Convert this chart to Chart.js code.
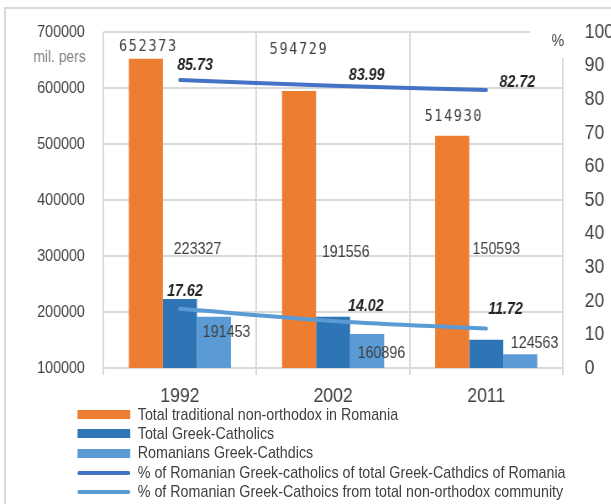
<!DOCTYPE html>
<html>
<head>
<meta charset="utf-8">
<script src="https://cdn.jsdelivr.net/npm/chart.js@4"></script>
<style>
  body { margin: 0; background: #fff; overflow: hidden; }
  #wrap { position: relative; width: 611px; height: 504px; overflow: hidden; }
  #frame { position: absolute; left: 4px; top: 7px; width: 700px; height: 600px; border: 2px solid #d9d9d9; }
  /* the whole figure is drawn wide and squeezed horizontally, which gives the narrow lettering */
  #stage { position: absolute; left: 0; top: 0; width: 728px; height: 504px; transform: scaleX(0.84); transform-origin: 0 0; }
  #chart { position: absolute; left: 0; top: 0; }
  #legend { position: absolute; left: 92px; top: 405px; font-family: "Liberation Sans", Arial, sans-serif; font-size: 17px; color: #404040; }
  .item { display: flex; align-items: center; height: 19.3px; white-space: nowrap; }
  .swatch { width: 63px; margin-right: 9px; }
</style>
</head>
<body>
<div id="wrap">
  <div id="frame"></div>
  <div id="stage">
    <canvas id="chart" width="728" height="410"></canvas>
    <div id="legend"></div>
  </div>
</div>
<script>
const years = ["1992", "2002", "2011"];
const totalNonOrthodox = [652373, 594729, 514930];
const totalGreekCatholics = [223327, 191556, 150593];
const romanianGreekCatholics = [191453, 160896, 124563];
const pctOfGreekCatholics = [85.73, 83.99, 82.72];
const pctOfNonOrthodox = [17.62, 14.02, 11.72];

const sans = '"Liberation Sans", Arial, sans-serif';

// where each value label sits relative to its bar top / line point
const labelStyle = [
  { font: '16px "DejaVu Sans Mono", monospace', spacing: "2px", shift: [[3, -12], [0, -41], [2, -19]] },
  { font: "17px " + sans, spacing: "0px", shift: [[21, -50], [15, -64], [12, -90]] },
  { font: "17px " + sans, spacing: "0px", shift: [[15, 16], [17, 19], [17, -11]] },
  { font: "italic bold 17px " + sans, spacing: "0px", shift: [[18, -15], [40, -10], [37, -8]] },
  { font: "italic bold 17px " + sans, spacing: "0px", shift: [[6, -17], [39, -15], [23, -19]] },
];

const valueLabels = {
  id: "valueLabels",
  afterDatasetsDraw(chart) {
    const ctx = chart.ctx;
    ctx.save();
    ctx.textAlign = "center";
    ctx.textBaseline = "middle";
    chart.data.datasets.forEach((ds, i) => {
      const meta = chart.getDatasetMeta(i);
      const style = labelStyle[i];
      ctx.font = style.font;
      ctx.letterSpacing = style.spacing;
      ctx.fillStyle = i >= 3 ? "#262626" : "#404040";
      meta.data.forEach((el, j) => {
        const [dx, dy] = style.shift[j];
        ctx.fillText(String(ds.data[j]), el.x + dx, el.y + dy);
      });
    });
    ctx.restore();
  },
  afterDraw(chart) {
    const { ctx, chartArea } = chart;
    ctx.save();
    // unit captions for both value axes
    ctx.fillStyle = "#fff";
    ctx.fillRect(chartArea.right - 39, chartArea.top - 4, 48, 30);
    ctx.font = "17px " + sans;
    ctx.fillStyle = "#404040";
    ctx.textAlign = "center";
    ctx.textBaseline = "middle";
    ctx.fillText("%", chartArea.right - 6, chartArea.top + 9);
    ctx.font = "16.5px " + sans;
    ctx.fillStyle = "#808080";
    ctx.textAlign = "right";
    ctx.fillText("mil. pers", chartArea.left - 21, chartArea.top + 25);
    ctx.restore();
  },
};

// keep the value axes from pushing the plot area down
function fixAxisWidth(width) {
  return (s) => {
    s.width = width;
    s.paddingTop = 0;
    s.paddingBottom = 0;
  };
}

const chart = new Chart(document.getElementById("chart"), {
  type: "bar",
  data: {
    labels: years,
    datasets: [
      {
        label: "Total traditional non-orthodox in Romania",
        data: totalNonOrthodox,
        backgroundColor: "#ED7D31",
        yAxisID: "y",
        order: 1,
      },
      {
        label: "Total Greek-Catholics",
        data: totalGreekCatholics,
        backgroundColor: "#2E75B6",
        yAxisID: "y",
        order: 1,
      },
      {
        label: "Romanians Greek-Cathdics",
        data: romanianGreekCatholics,
        backgroundColor: "#5B9BD5",
        yAxisID: "y",
        order: 1,
      },
      {
        type: "line",
        label: "% of Romanian Greek-catholics of total Greek-Cathdics of Romania",
        data: pctOfGreekCatholics,
        borderColor: "#4472C4",
        backgroundColor: "#4472C4",
        borderWidth: 4,
        borderCapStyle: "round",
        tension: 0.4,
        pointRadius: 0,
        yAxisID: "y1",
        order: 0,
      },
      {
        type: "line",
        label: "% of Romanian Greek-Cathoics from total non-orthodox community",
        data: pctOfNonOrthodox,
        borderColor: "#5B9BD5",
        backgroundColor: "#5B9BD5",
        borderWidth: 4,
        borderCapStyle: "round",
        tension: 0.4,
        pointRadius: 0,
        yAxisID: "y1",
        order: 0,
      },
    ],
  },
  options: {
    responsive: false,
    animation: false,
    datasets: {
      bar: { barPercentage: 1, categoryPercentage: 0.667 },
    },
    layout: { padding: { top: 32, left: 0, right: 0, bottom: 0 } },
    scales: {
      x: {
        offset: true,
        grid: { offset: true, color: "#d9d9d9", lineWidth: 2, tickLength: 7 },
        border: { display: false },
        ticks: {
          font: { family: sans, size: 21 },
          color: "#404040",
          padding: 9,
        },
        afterFit: (s) => { s.height = 42; },
      },
      y: {
        position: "left",
        min: 100000,
        max: 700000,
        grid: { color: "#d9d9d9", lineWidth: 2, drawTicks: false },
        border: { display: false },
        ticks: {
          stepSize: 100000,
          padding: 22,
          font: { family: sans, size: 17 },
          color: "#404040",
          callback: (v) => String(v),
        },
        afterFit: fixAxisWidth(123),
      },
      y1: {
        position: "right",
        min: 0,
        max: 100,
        grid: { display: false, drawTicks: false },
        border: { display: false },
        ticks: {
          stepSize: 10,
          padding: 26,
          font: { family: sans, size: 21 },
          color: "#404040",
        },
        afterFit: fixAxisWidth(58),
      },
    },
    plugins: {
      legend: { display: false },
      tooltip: { enabled: false },
    },
  },
  plugins: [valueLabels],
});

// legend as a single column under the chart
const legend = document.getElementById("legend");
chart.data.datasets.forEach((ds) => {
  const row = document.createElement("div");
  row.className = "item";
  const sw = document.createElement("span");
  sw.className = "swatch";
  if (ds.type === "line") {
    sw.style.height = "4px";
    sw.style.borderRadius = "2px";
  } else {
    sw.style.height = "9px";
  }
  sw.style.background = ds.backgroundColor;
  const txt = document.createElement("span");
  txt.textContent = ds.label;
  row.appendChild(sw);
  row.appendChild(txt);
  legend.appendChild(row);
});
</script>
</body>
</html>
